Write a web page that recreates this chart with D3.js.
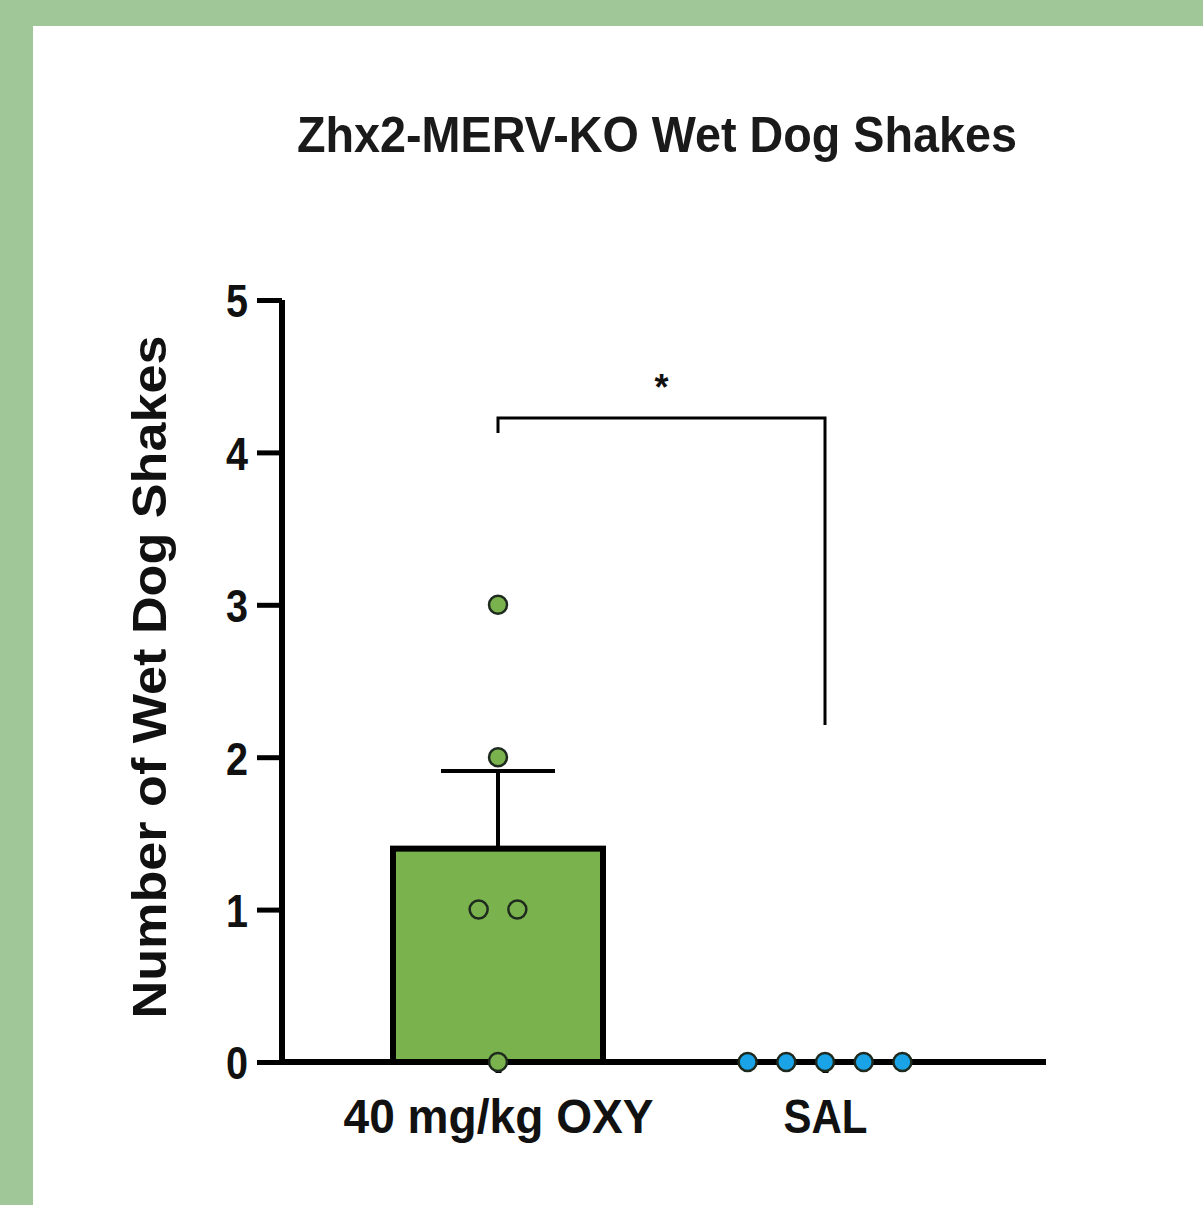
<!DOCTYPE html>
<html lang="en">

<head>
    <meta charset="UTF-8">
    <script src="https://cdnjs.cloudflare.com/ajax/libs/d3/7.9.0/d3.min.js"></script>
    <title>Zhx2-MERV-KO Wet Dog Shakes</title>
    <style>
        body {
            margin: 0;
            background-color: #9fc797;
            font-family: "Liberation Sans", Arial, sans-serif;
        }

        svg {
            display: block;
        }
    </style>
</head>

<body>
    <div id="chart"></div>
    <script>
        const width = 1203;
        const height = 1205;

        // data
        const categories = ["40 mg/kg OXY", "SAL"];
        const means = [1.4, 0];
        const sems = [0.51, 0];
        const oxyPoints = [3, 2, 1, 1, 0];
        const salPoints = [0, 0, 0, 0, 0];
        const yTicks = [0, 1, 2, 3, 4, 5];
        const barColors = ["#7ab24e", "#1aa3e6"];

        const svg = d3.select("#chart").append("svg")
            .attr("width", width)
            .attr("height", height);

        // white panel
        svg.append("rect")
            .attr("x", 33).attr("y", 26)
            .attr("width", width - 33).attr("height", height - 26)
            .attr("fill", "white");

        const y = d3.scaleLinear().domain([0, 5]).range([1062, 300]);
        const x = d3.scalePoint().domain(categories).range([498, 825]);

        // title
        svg.append("text")
            .attr("x", 657).attr("y", 152)
            .attr("text-anchor", "middle")
            .attr("font-size", 50).attr("font-weight", "bold")
            .attr("textLength", 720).attr("lengthAdjust", "spacingAndGlyphs")
            .attr("fill", "#1a1a1a")
            .text("Zhx2-MERV-KO Wet Dog Shakes");

        // y-axis label
        svg.append("text")
            .attr("transform", "translate(166, 677) rotate(-90)")
            .attr("text-anchor", "middle")
            .attr("font-size", 49).attr("font-weight", "bold")
            .attr("textLength", 683).attr("lengthAdjust", "spacingAndGlyphs")
            .attr("fill", "#111")
            .text("Number of Wet Dog Shakes");

        // bar
        const barW = 210;
        svg.append("rect")
            .attr("x", x(categories[0]) - barW / 2)
            .attr("y", y(means[0]))
            .attr("width", barW)
            .attr("height", y(0) - y(means[0]))
            .attr("fill", barColors[0])
            .attr("stroke", "black")
            .attr("stroke-width", 6);

        // error bar
        const cx = x(categories[0]);
        svg.append("line")
            .attr("x1", cx).attr("x2", cx)
            .attr("y1", y(means[0])).attr("y2", y(means[0] + sems[0]))
            .attr("stroke", "black").attr("stroke-width", 4);
        svg.append("line")
            .attr("x1", cx - 57).attr("x2", cx + 57)
            .attr("y1", y(means[0] + sems[0])).attr("y2", y(means[0] + sems[0]))
            .attr("stroke", "black").attr("stroke-width", 4);

        // y axis
        const yAxis = svg.append("g")
            .attr("transform", "translate(282,0)")
            .call(d3.axisLeft(y).tickValues(yTicks).tickFormat(d3.format("d"))
                .tickSize(25).tickPadding(9).tickSizeOuter(0));
        yAxis.select(".domain").attr("stroke-width", 6).attr("d", `M0,${y(0) + 3}V${y(5)}`);
        yAxis.selectAll(".tick line").attr("stroke-width", 5);
        yAxis.selectAll(".tick text")
            .attr("font-size", 47).attr("font-weight", "bold")
            .attr("font-family", "Liberation Sans, Arial, sans-serif")
            .attr("textLength", 22).attr("lengthAdjust", "spacingAndGlyphs")
            .attr("fill", "#111")
            .attr("dy", "0.36em");

        // x axis
        const xAxis = svg.append("g")
            .attr("transform", `translate(0,${y(0)})`)
            .call(d3.axisBottom(x).tickSize(11).tickPadding(0).tickSizeOuter(0));
        xAxis.select(".domain").attr("stroke-width", 6).attr("d", "M279,0H1046");
        xAxis.selectAll(".tick line").attr("stroke-width", 6);
        const labelW = { "40 mg/kg OXY": 310, "SAL": 84 };
        xAxis.selectAll(".tick text")
            .attr("font-size", 49).attr("font-weight", "bold")
            .attr("font-family", "Liberation Sans, Arial, sans-serif")
            .attr("dy", null).attr("y", 71)
            .attr("textLength", d => labelW[d]).attr("lengthAdjust", "spacingAndGlyphs")
            .attr("fill", "#111");

        // points (spread horizontally like the original)
        const spread = 38.7;
        function offsets(vals) {
            const out = [];
            const groups = d3.group(vals.map((v, i) => ({ v, i })), d => d.v);
            groups.forEach(g => {
                g.forEach((d, k) => out[d.i] = (k - (g.length - 1) / 2) * spread);
            });
            return out;
        }
        [oxyPoints, salPoints].forEach((pts, gi) => {
            const off = offsets(pts);
            svg.append("g").selectAll("circle")
                .data(pts)
                .join("circle")
                .attr("cx", (d, i) => x(categories[gi]) + off[i])
                .attr("cy", d => y(d))
                .attr("r", 9)
                .attr("fill", barColors[gi])
                .attr("stroke", "#1e2a1e")
                .attr("stroke-width", 2.5);
        });

        // significance bracket
        svg.append("path")
            .attr("d", `M${x(categories[0])},433V418H${x(categories[1])}V725`)
            .attr("fill", "none")
            .attr("stroke", "black")
            .attr("stroke-width", 3);
        svg.append("text")
            .attr("x", (x(categories[0]) + x(categories[1])) / 2)
            .attr("y", 400)
            .attr("text-anchor", "middle")
            .attr("font-size", 36).attr("font-weight", "bold")
            .attr("fill", "#111")
            .text("*");
    </script>
</body>

</html>
